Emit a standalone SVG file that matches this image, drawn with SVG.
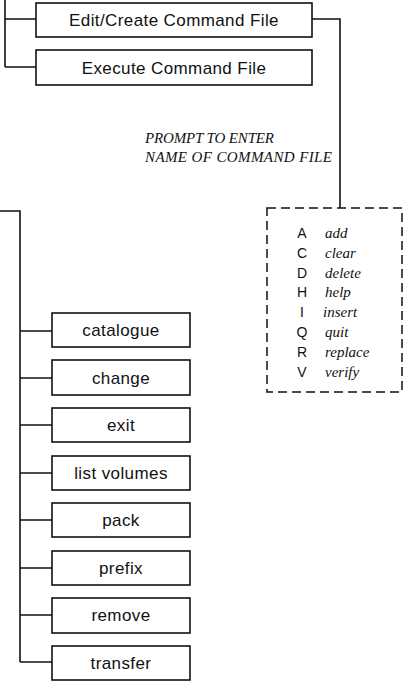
<svg xmlns="http://www.w3.org/2000/svg" width="409" height="689" viewBox="0 0 409 689">
<style>
.box{fill:#fff;stroke:#111;stroke-width:1.6}
.ln{fill:none;stroke:#111;stroke-width:1.6}
.lbl{font-family:"Liberation Sans",Arial,sans-serif;font-size:17px;letter-spacing:0.4px;fill:#111;text-anchor:middle}
.key{font-family:"Liberation Sans",Arial,sans-serif;font-size:14px;fill:#111;text-anchor:middle}
.it{font-family:"Liberation Serif","Times New Roman",serif;font-style:italic;font-size:15px;fill:#111}
.pr{font-family:"Liberation Serif","Times New Roman",serif;font-style:italic;font-size:15px;fill:#111}
</style>
<rect width="409" height="689" fill="#fff"/>
<g id="connectors">
<path class="ln" d="M5,0 V67 M5,19 H36 M5,67 H36"/>
<path class="ln" d="M312,19 H340 V208"/>
<path class="ln" d="M0,211 H20 V662 M20,331 H52 M20,378 H52 M20,425 H52 M20,473 H52 M20,520 H52 M20,568 H52 M20,615 H52 M20,662 H52"/>
</g>
<g id="edit-create"><rect class="box" x="36" y="3" width="276" height="34"/><text class="lbl" x="174" y="26">Edit/Create Command File</text></g>
<g id="execute"><rect class="box" x="36" y="50" width="276" height="35"/><text class="lbl" x="174" y="74">Execute Command File</text></g>
<g id="prompt"><text class="pr" x="145" y="143" textLength="129" lengthAdjust="spacing">PROMPT TO ENTER</text><text class="pr" x="145" y="162" textLength="187" lengthAdjust="spacing">NAME OF COMMAND FILE</text></g>
<g id="command-menu">
<rect x="267" y="208" width="135" height="184" fill="none" stroke="#111" stroke-width="1.5" stroke-dasharray="9,5"/>
<text class="key" x="302" y="238">A</text><text class="it" x="325" y="238">add</text>
<text class="key" x="302" y="258">C</text><text class="it" x="325" y="258">clear</text>
<text class="key" x="302" y="278">D</text><text class="it" x="325" y="278">delete</text>
<text class="key" x="302" y="297">H</text><text class="it" x="325" y="297">help</text>
<text class="key" x="302" y="317">I</text><text class="it" x="323" y="317">insert</text>
<text class="key" x="302" y="337">Q</text><text class="it" x="325" y="337">quit</text>
<text class="key" x="302" y="357">R</text><text class="it" x="325" y="357">replace</text>
<text class="key" x="302" y="377">V</text><text class="it" x="325" y="377">verify</text>
</g>
<g id="catalogue"><rect class="box" x="52" y="313" width="138" height="34"/><text class="lbl" x="121" y="336">catalogue</text></g>
<g id="change"><rect class="box" x="52" y="360" width="138" height="35"/><text class="lbl" x="121" y="384">change</text></g>
<g id="exit"><rect class="box" x="52" y="408" width="138" height="34"/><text class="lbl" x="121" y="431">exit</text></g>
<g id="list-volumes"><rect class="box" x="52" y="456" width="138" height="34"/><text class="lbl" x="121" y="479">list volumes</text></g>
<g id="pack"><rect class="box" x="52" y="503" width="138" height="34"/><text class="lbl" x="121" y="526">pack</text></g>
<g id="prefix"><rect class="box" x="52" y="551" width="138" height="34"/><text class="lbl" x="121" y="574">prefix</text></g>
<g id="remove"><rect class="box" x="52" y="598" width="138" height="35"/><text class="lbl" x="121" y="621">remove</text></g>
<g id="transfer"><rect class="box" x="52" y="646" width="138" height="34"/><text class="lbl" x="121" y="669">transfer</text></g>
</svg>
